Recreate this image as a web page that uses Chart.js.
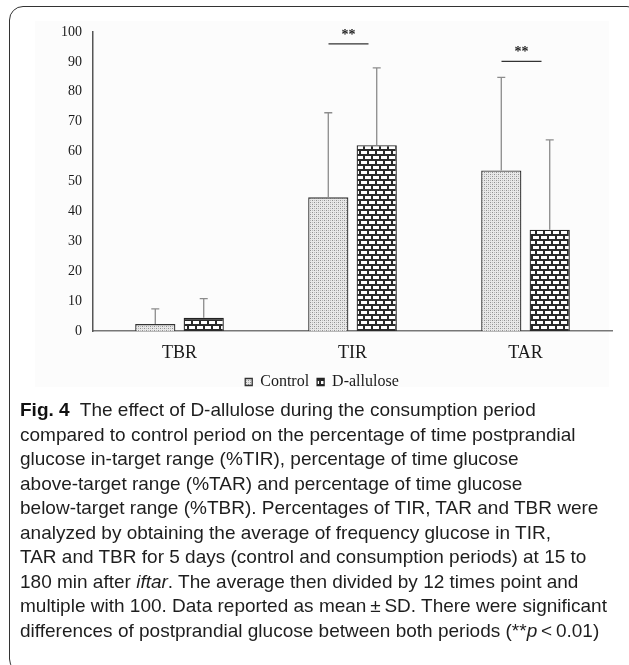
<!DOCTYPE html>
<html>
<head>
<meta charset="utf-8">
<script src="https://cdn.jsdelivr.net/npm/chart.js@4.4.1/dist/chart.umd.min.js"></script>
<style>
  body { margin: 0; background: #fff; width: 629px; height: 665px; overflow: hidden; position: relative; }
  #frame { position: absolute; left: 9px; top: 6px; width: 630px; height: 665px; border: 1.5px solid #333; border-radius: 14px; }
  #plotbg { position: absolute; left: 35px; top: 21px; width: 574px; height: 366px; background: #fcfcfc; }
  #chart { position: absolute; left: 0; top: 0; }
  #caption { position: absolute; left: 20px; top: 398px; font-family: "Liberation Sans", Arial, sans-serif; font-size: 19px; line-height: 24.5px; color: #1e1e1e; white-space: nowrap; }
  #caption b { color: #111; }
</style>
</head>
<body>
<div id="frame"></div>
<div id="plotbg"></div>
<canvas id="chart" width="629" height="400"></canvas>
<div id="caption">
<b>Fig. 4</b>&nbsp; The effect of D-allulose during the consumption period<br>
compared to control period on the percentage of time postprandial<br>
glucose in-target range (%TIR), percentage of time glucose<br>
above-target range (%TAR) and percentage of time glucose<br>
below-target range (%TBR). Percentages of TIR, TAR and TBR were<br>
analyzed by obtaining the average of frequency glucose in TIR,<br>
TAR and TBR for 5 days (control and consumption periods) at 15 to<br>
180 min after <i>iftar</i>. The average then divided by 12 times point and<br>
multiple with 100. Data reported as mean&thinsp;±&thinsp;SD. There were significant<br>
differences of postprandial glucose between both periods (**<i>p</i>&thinsp;&lt;&thinsp;0.01)
</div>
<script>
const categories = ["TBR", "TIR", "TAR"];
const controlMean = [2.3, 44.7, 53.7];
const controlSD = [5.1, 28.3, 31.1];
const alluloseMean = [4.4, 62.1, 33.9];
const alluloseSD = [6.4, 25.9, 30.0];
const yTicks = [0, 10, 20, 30, 40, 50, 60, 70, 80, 90, 100];
// significance marks: category index and height of the bar line
const sigCategory = [1, 2];
const sigLevel = [96, 90.2];

function dotPattern() {
  const c = document.createElement("canvas");
  c.width = 4; c.height = 4;
  const g = c.getContext("2d");
  g.fillStyle = "#e8e8e8";
  g.fillRect(0, 0, 4, 4);
  g.fillStyle = "#909090";
  g.fillRect(0, 0, 1, 1);
  g.fillRect(2, 2, 1, 1);
  g.fillStyle = "#bbbbbb";
  g.fillRect(2, 0, 1, 1);
  g.fillRect(0, 2, 1, 1);
  return g.createPattern(c, "repeat");
}

function brickPattern() {
  const c = document.createElement("canvas");
  c.width = 16; c.height = 10;
  const g = c.getContext("2d");
  g.fillStyle = "#2a2a2a";
  g.fillRect(0, 0, 16, 10);
  g.fillStyle = "#ffffff";
  g.fillRect(1, 1, 6, 3);
  g.fillRect(9, 1, 6, 3);
  g.fillRect(0, 6, 3, 3);
  g.fillRect(5, 6, 6, 3);
  g.fillRect(13, 6, 3, 3);
  return g.createPattern(c, "repeat");
}

const errorBars = {
  id: "errorBars",
  afterDatasetsDraw(chart) {
    const ctx = chart.ctx;
    const y = chart.scales.y;
    const sds = [controlSD, alluloseSD];
    const means = [controlMean, alluloseMean];
    ctx.save();
    ctx.strokeStyle = "#8c8c8c";
    ctx.lineWidth = 1.3;
    chart.data.datasets.forEach((ds, d) => {
      const meta = chart.getDatasetMeta(d);
      meta.data.forEach((bar, i) => {
        const top = y.getPixelForValue(means[d][i] + sds[d][i]);
        const base = y.getPixelForValue(means[d][i]);
        ctx.beginPath();
        ctx.moveTo(bar.x, base);
        ctx.lineTo(bar.x, top);
        ctx.moveTo(bar.x - 4, top);
        ctx.lineTo(bar.x + 4, top);
        ctx.stroke();
      });
    });
    // significance
    const x = chart.scales.x;
    ctx.strokeStyle = "#333";
    ctx.lineWidth = 1.3;
    ctx.fillStyle = "#222";
    ctx.font = "bold 14px 'Liberation Serif', serif";
    ctx.textAlign = "center";
    ctx.textBaseline = "bottom";
    sigCategory.forEach((c, k) => {
      const cx = x.getPixelForValue(c) - 4;
      const ly = y.getPixelForValue(sigLevel[k]);
      ctx.beginPath();
      ctx.moveTo(cx - 20, ly);
      ctx.lineTo(cx + 20, ly);
      ctx.stroke();
      ctx.fillText("**", cx, ly - 2);
    });
    ctx.restore();
  }
};

new Chart(document.getElementById("chart"), {
  type: "bar",
  data: {
    labels: categories,
    datasets: [
      {
        label: "Control",
        data: controlMean,
        backgroundColor: dotPattern(),
        borderColor: "#333",
        borderWidth: 1.3,
        categoryPercentage: 0.56,
        barPercentage: 0.83,
      },
      {
        label: "D-allulose",
        data: alluloseMean,
        backgroundColor: brickPattern(),
        borderColor: "#222",
        borderWidth: 1.3,
        categoryPercentage: 0.56,
        barPercentage: 0.83,
      },
    ],
  },
  options: {
    responsive: false,
    animation: false,
    layout: { padding: { left: 32, right: 17, top: 32, bottom: 0 } },
    plugins: {
      tooltip: { enabled: false },
      legend: {
        position: "bottom",
        labels: {
          boxWidth: 7,
          boxHeight: 7,
          padding: 8,
          color: "#1a1a1a",
          font: { family: "'Liberation Serif', serif", size: 16 },
        },
      },
    },
    scales: {
      x: {
        grid: { display: false, drawTicks: false },
        border: { color: "#777", width: 1.5 },
        ticks: { color: "#1a1a1a", padding: 11, font: { family: "'Liberation Serif', serif", size: 18 } },
        afterFit: (s) => { s.height = 35; },
      },
      y: {
        min: 0,
        max: 100,
        afterBuildTicks: (s) => { s.ticks = yTicks.map((v) => ({ value: v })); },
        grid: { display: false, drawTicks: false },
        border: { color: "#555", width: 1.5 },
        ticks: { color: "#1a1a1a", padding: 11, font: { family: "'Liberation Serif', serif", size: 14 } },
        afterFit: (s) => { s.width = 61; },
      },
    },
  },
  plugins: [errorBars],
});
</script>
</body>
</html>
